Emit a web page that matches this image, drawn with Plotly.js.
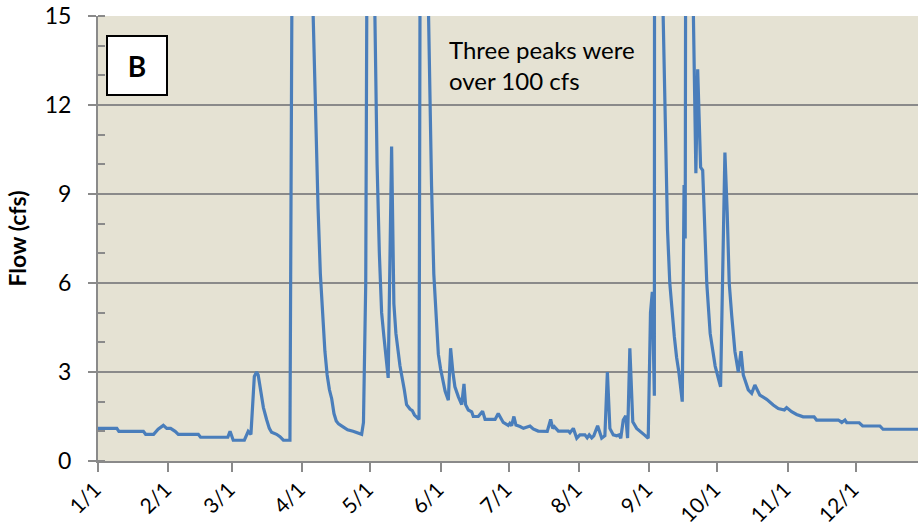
<!DOCTYPE html>
<html>
<head>
<meta charset="utf-8">
<script src="https://cdn.plot.ly/plotly-3.0.1.min.js"></script>
<style>
  html, body { margin: 0; padding: 0; background: #fff; }
  #chart { width: 918px; height: 529px; }
</style>
</head>
<body>
<div id="chart"></div>
<script>
// Daily flow record, read off the hydrograph (day 0 = Jan 1)
// winter baseflow and the small March rise
const winterDays = [0, 8.3, 9.2, 20, 21, 24.5, 26.5, 28.8, 30.3, 32, 34, 35.4, 44.2, 45.2, 57.2, 58.2, 59.6, 64.5, 66.2, 67.4, 68.9, 69.9, 70.6, 71.7, 72.9, 74.3, 75.5, 76.5, 78.7, 80.2, 81.7, 84.6];
const winterFlow = [1.1, 1.1, 1.0, 1.0, 0.9, 0.9, 1.07, 1.2, 1.1, 1.1, 1.0, 0.9, 0.9, 0.8, 0.8, 1.0, 0.7, 0.7, 1.0, 0.9, 2.85, 3.0, 2.9, 2.3, 1.8, 1.4, 1.1, 0.97, 0.9, 0.82, 0.7, 0.7];

// spring storms (late March, late April)
const springDays = [85.6, 86.5, 89, 92, 94, 95, 96, 97, 98, 99, 100, 101, 102, 103, 104, 105, 106, 108, 110, 112.4, 114, 116.2, 117, 118, 118.7, 119.5, 121, 122, 123, 124, 125, 126, 127, 127.9, 129.4, 130.4, 131.3, 133.1, 135, 136, 137.5, 138.5, 139.5, 141.5];
const springFlow = [18, 110, 45, 25, 17.5, 14.5, 11, 8.5, 6.3, 4.9, 3.7, 2.9, 2.4, 2.1, 1.6, 1.35, 1.25, 1.15, 1.05, 1.0, 0.95, 0.9, 1.3, 6, 20, 90, 30, 15.2, 10, 7, 5, 4.2, 3.4, 2.8, 10.6, 5.3, 4.3, 3.2, 2.4, 1.9, 1.75, 1.7, 1.55, 1.4];

// late May storm and summer recession
const summerDays = [142.2, 143, 144, 145, 146, 147, 148, 149, 150, 151, 152, 153, 154.4, 155.4, 156.4, 157.3, 158.8, 160.3, 161.3, 162, 163.2, 164.7, 165.4, 167.6, 169.5, 170.6, 175, 176.4, 178.6, 180.8, 181.5, 182.3, 183.3, 184.2, 186, 187.5, 190.4, 191.8, 194, 198, 199.5, 200.4, 201.1, 202.9, 207.3, 208, 209.5, 211, 212.4, 214.6, 215.6, 216.5, 217.6, 218.5, 220.2, 222, 223.4, 224.5, 225.6, 227.1, 228.6, 229.6, 230.4, 231.5, 232.6, 233.4, 234.4, 235.7, 237.4, 238.9, 240.8, 242.5, 243.5, 244.3, 245.2];
const summerFlow = [25, 120, 45, 18, 12.8, 9.3, 6.3, 4.7, 3.6, 3.1, 2.7, 2.35, 2.05, 3.8, 3.0, 2.5, 2.17, 1.9, 2.6, 1.9, 1.72, 1.66, 1.5, 1.5, 1.68, 1.4, 1.4, 1.6, 1.3, 1.2, 1.27, 1.19, 1.5, 1.21, 1.16, 1.1, 1.18, 1.08, 1.01, 1.0, 1.4, 1.1, 1.16, 1.01, 1.01, 0.95, 1.1, 0.77, 0.88, 0.88, 0.78, 0.88, 0.78, 0.85, 1.19, 0.77, 0.85, 3.0, 1.1, 0.88, 0.85, 0.88, 0.77, 1.38, 1.52, 0.77, 3.8, 1.32, 1.1, 0.99, 0.88, 0.77, 5.0, 5.7, 2.2];

// September storms and fall recession
const fallDays = [246, 247, 248, 249, 250, 251, 252, 253, 254, 255, 256, 257.5, 258.3, 258.8, 259.8, 260.5, 262, 263.5, 264.3, 265.6, 266.5, 267.5, 268.3, 269.8, 272, 274.4, 275.6, 276.3, 277.3, 278.2, 279.3, 280.7, 282.2, 283.4, 284.4, 286.6, 288.1, 289.5, 291.7, 294.7, 297.6, 299.8, 302.5, 303.5, 305.7, 307.9, 310.8, 315.6, 316.7, 326.3, 327.8, 329.2, 330, 335.5, 337, 344.6, 346, 362];
const fallFlow = [150, 60, 25, 15.3, 11, 7.8, 6.0, 5.0, 4.2, 3.5, 3.0, 2.0, 9.3, 7.5, 20, 90, 17, 9.7, 13.2, 9.9, 9.8, 7.5, 6.0, 4.3, 3.2, 2.5, 8.5, 10.4, 8.4, 6.0, 4.9, 3.7, 3.0, 3.7, 2.9, 2.4, 2.28, 2.56, 2.22, 2.08, 1.89, 1.77, 1.72, 1.8, 1.66, 1.57, 1.49, 1.49, 1.38, 1.38, 1.3, 1.38, 1.29, 1.29, 1.18, 1.18, 1.07, 1.07];

const monthTicks = ['2011-01-01', '2011-02-01', '2011-03-01', '2011-04-01', '2011-05-01', '2011-06-01',
  '2011-07-01', '2011-08-01', '2011-09-01', '2011-10-01', '2011-11-01', '2011-12-01'];
const monthLabels = ['1/1', '2/1', '3/1', '4/1', '5/1', '6/1', '7/1', '8/1', '9/1', '10/1', '11/1', '12/1'];

const lastVisibleDay = 361.4;

// day-of-year -> plotly date string
function dayToDate(d) {
  const t = new Date(Date.UTC(2011, 0, 1) + d * 86400000);
  return t.toISOString().slice(0, 19).replace('T', ' ');
}

const days = winterDays.concat(springDays, summerDays, fallDays);
const flow = winterFlow.concat(springFlow, summerFlow, fallFlow);

const trace = {
  x: days.map(dayToDate),
  y: flow,
  type: 'scatter',
  mode: 'lines',
  line: { color: '#4a7ebb', width: 3.2 },
  hoverinfo: 'x+y'
};

const axisGray = '#8a8a8a';
const font = 'Lato, "Open Sans", sans-serif';

const layout = {
  width: 918,
  height: 529,
  margin: { l: 98, r: 0, t: 16, b: 68 },
  paper_bgcolor: '#ffffff',
  plot_bgcolor: '#e5e2d3',
  showlegend: false,
  font: { family: font, color: '#000000', size: 22 },
  xaxis: {
    type: 'date',
    range: [dayToDate(0), dayToDate(lastVisibleDay)],
    tickmode: 'array',
    tickvals: monthTicks,
    ticktext: monthLabels,
    tickangle: -45,
    ticks: 'outside',
    ticklen: 9,
    tickwidth: 2,
    tickcolor: axisGray,
    ticklabelstandoff: -3,
    ticklabelshift: -3,
    showgrid: false,
    showline: true,
    linecolor: axisGray,
    linewidth: 2,
    zeroline: false,
    tickfont: { family: font, size: 21, color: '#000000' }
  },
  yaxis: {
    range: [0, 15],
    tickvals: [0, 3, 6, 9, 12, 15],
    ticks: 'outside',
    ticklen: 8,
    tickwidth: 2,
    tickcolor: axisGray,
    showgrid: true,
    gridcolor: axisGray,
    gridwidth: 2,
    showline: true,
    linecolor: axisGray,
    linewidth: 2,
    zeroline: false,
    ticklabelstandoff: 12,
    minor: { dtick: 1, ticks: 'inside', ticklen: 7, tickwidth: 2, tickcolor: axisGray, showgrid: false },
    tickfont: { family: font, size: 23, color: '#000000' },
    title: { text: '<b>Flow (cfs)</b>', font: { family: font, size: 23 }, standoff: 12 }
  },
  annotations: [
    {
      xref: 'paper', yref: 'paper',
      x: 0.0476, y: 0.889,
      xanchor: 'center', yanchor: 'middle',
      text: '<b>B</b>',
      showarrow: false,
      font: { family: font, size: 28, color: '#000000' },
      bgcolor: '#ffffff',
      bordercolor: '#000000',
      borderwidth: 2,
      borderpad: 0,
      width: 58,
      height: 57
    },
    {
      xref: 'paper', yref: 'paper',
      x: 0.4256, y: 0.962,
      xanchor: 'left', yanchor: 'top',
      align: 'left',
      text: 'Three peaks were<br>over 100 cfs',
      showarrow: false,
      font: { family: font, size: 24, color: '#000000' }
    }
  ]
};

Plotly.newPlot('chart', [trace], layout, { displayModeBar: false, staticPlot: true });
</script>
</body>
</html>
